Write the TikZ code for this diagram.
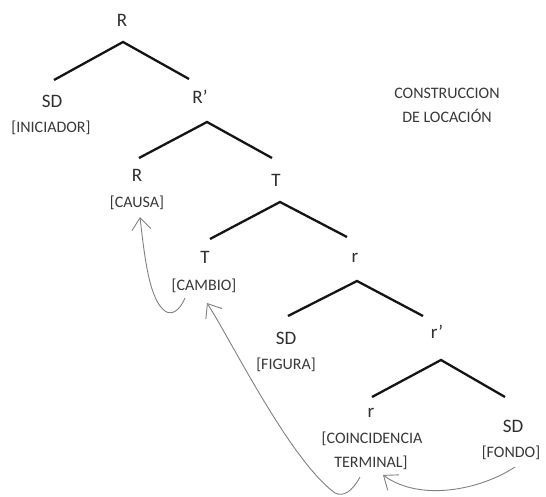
\documentclass[tikz,border=0pt]{standalone}
\usepackage{fontspec}
\setmainfont{Carlito}
\usetikzlibrary{arrows.meta}
\begin{document}
\begin{tikzpicture}[x=1pt,y=-1pt,
  lab/.style={font=\fontsize{19}{21}\selectfont, text=black!82, inner sep=0pt},
  sub/.style={font=\fontsize{16}{18}\selectfont, text=black!78, inner sep=0pt},
  branch/.style={line width=2.3pt, black!92},
  move/.style={draw=black!50, line width=0.9pt, -{Straight Barb[length=12pt,width=19pt,line width=0.9pt]}}]
\useasboundingbox (0,0) rectangle (546,497);

% labels
\node[lab] (R1) at (122,20) {R};
\node[lab] (SD1) at (52,101) {SD};
\node[sub] (ini) at (51,128) {[INICIADOR]};
\node[lab] (Rp) at (200,97) {R’};
\node[lab] (R2) at (137,175) {R};
\node[sub] (causa) at (137,203) {[CAUSA]};
\node[lab] (T1) at (276,180) {T};
\node[lab] (T2) at (205,257) {T};
\node[sub] (cambio) at (204,286) {[CAMBIO]};
\node[lab] (r1) at (355,258) {r};
\node[lab] (SD3) at (286,338) {SD};
\node[sub] (figura) at (286,365) {[FIGURA]};
\node[lab] (rp) at (437,332) {r’};
\node[lab] (r2) at (371,413) {r};
\node[sub] (coin) at (372,439) {[COINCIDENCIA};
\node[sub] (term) at (371,463) {TERMINAL]};
\node[lab] (SD4) at (513,426) {SD};
\node[sub] (fondo) at (511,453) {[FONDO]};
\node[sub] (c1) at (447,93) {CONSTRUCCION};
\node[sub] (c2) at (447,116) {DE LOCACIÓN};

% tree branches
\coordinate (a1) at (123,42);  \coordinate (l1) at (54,80);   \coordinate (m1) at (189,79);
\coordinate (a2) at (207,122); \coordinate (l2) at (139,158); \coordinate (m2) at (272,158);
\coordinate (a3) at (280,202); \coordinate (l3) at (210,239); \coordinate (m3) at (347,237);
\coordinate (a4) at (357,281); \coordinate (l4) at (288,316); \coordinate (m4) at (423,316);
\coordinate (a5) at (441,360); \coordinate (l5) at (372,397); \coordinate (m5) at (505,397);
\foreach \i in {1,...,5}{\draw[branch] (l\i) -- (a\i) -- (m\i);}

% movement arrows
\coordinate (s1) at (185,298); \coordinate (t1) at (140,217);
\coordinate (s2) at (360,477); \coordinate (t2) at (207,303);
\coordinate (s3) at (515,467); \coordinate (t3) at (383,475);
\draw[move] (s1) .. controls (180,310) and (172,316) .. (165,311)
  .. controls (150,300) and (145,262) .. (t1);
\draw[move] (s2) .. controls (352,492) and (343,497) .. (335,493)
  .. controls (290,460) and (232,342) .. (t2);
\draw[move] (s3) .. controls (480,490) and (420,502) .. (t3);
\end{tikzpicture}
\end{document}
